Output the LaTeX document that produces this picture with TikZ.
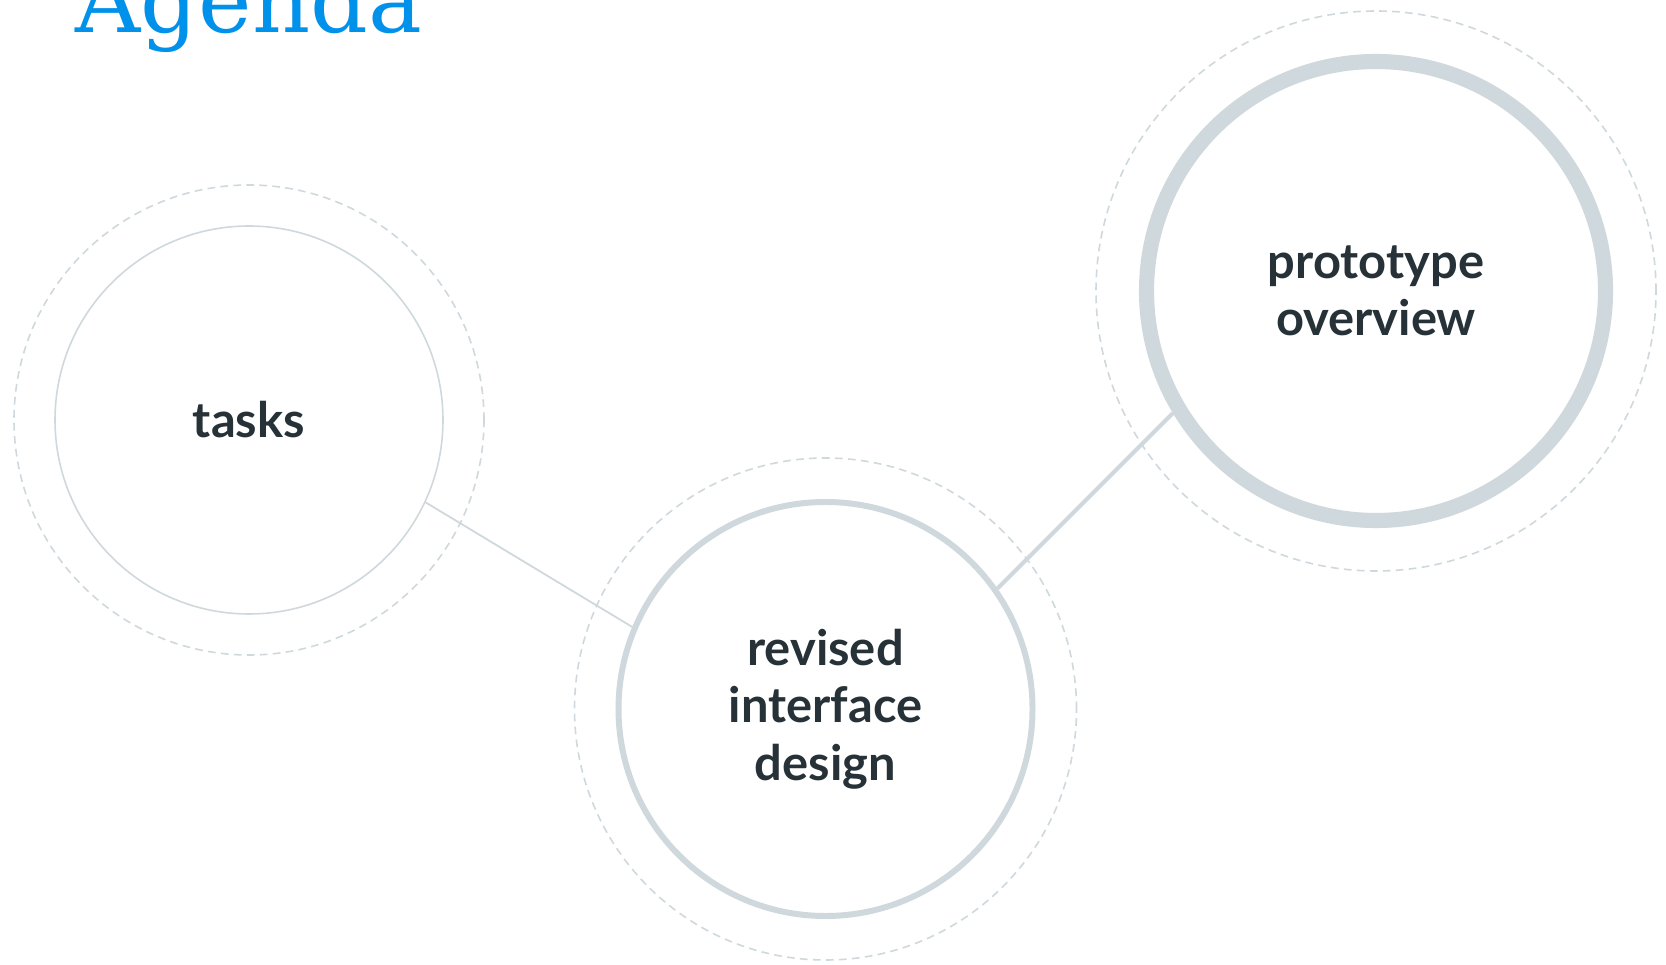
\documentclass[tikz,border=0pt]{standalone}
\definecolor{Slate}{HTML}{263238}
\definecolor{Mist}{HTML}{CFD8DC}
\definecolor{Sky}{HTML}{0091EA}
\usepackage{fontspec}
\setmainfont{Lato}
\newfontfamily\headingfont{DejaVu Serif}
\usepackage{tikz}
\usetikzlibrary{positioning}
\tikzset{
    % Plain white discs with a grey rim
    topic/.style={
        circle,
        draw=Mist,
        fill=white,
        inner sep=0pt,
        align=center,
        text=Slate,
        font=\fontsize{13.9}{16.3}\selectfont\bfseries
    },
    halo/.style={
        circle,
        draw=Mist,
        dash pattern=on 2.2pt off 1.5pt,
        line width=0.45pt,
        inner sep=0pt
    },
    link/.style={
        draw=Mist,
        line width=0.5pt
    }
}

\begin{document}
\begin{tikzpicture}[
        heading/.style={text=Sky, inner sep=0pt, font=\headingfont\fontsize{25.7}{30}\selectfont}
    ]
    \clip (0,0) rectangle (16.66,9.64);
    \fill[white] (0,0) rectangle (16.66,9.64);

    \node[heading, anchor=base west] (title) at (0.75,9.31) {Agenda};

    \node[topic, minimum size=3.88cm, line width=0.45pt] (tasks) at (2.49,5.44) {tasks};
    \node[topic, minimum size=4.14cm, line width=1.7pt] (revised) at (8.255,2.55) {revised\\interface\\design};
    \node[topic, minimum size=4.59cm, line width=4.3pt] (proto) at (13.76,6.73) {prototype\\overview};

    % Dashed rings
    \node[halo, minimum size=4.70cm] (tasksring) at (tasks.center) {};
    \node[halo, minimum size=5.02cm] (revisedring) at (revised.center) {};
    \node[halo, minimum size=5.60cm] (protoring) at (proto.center) {};

    % Links
    \draw[link] (tasks.-25) -- (revised.157);
    \draw[link, line width=1.15pt] (revised.35) -- (proto.211);
\end{tikzpicture}
\end{document}
